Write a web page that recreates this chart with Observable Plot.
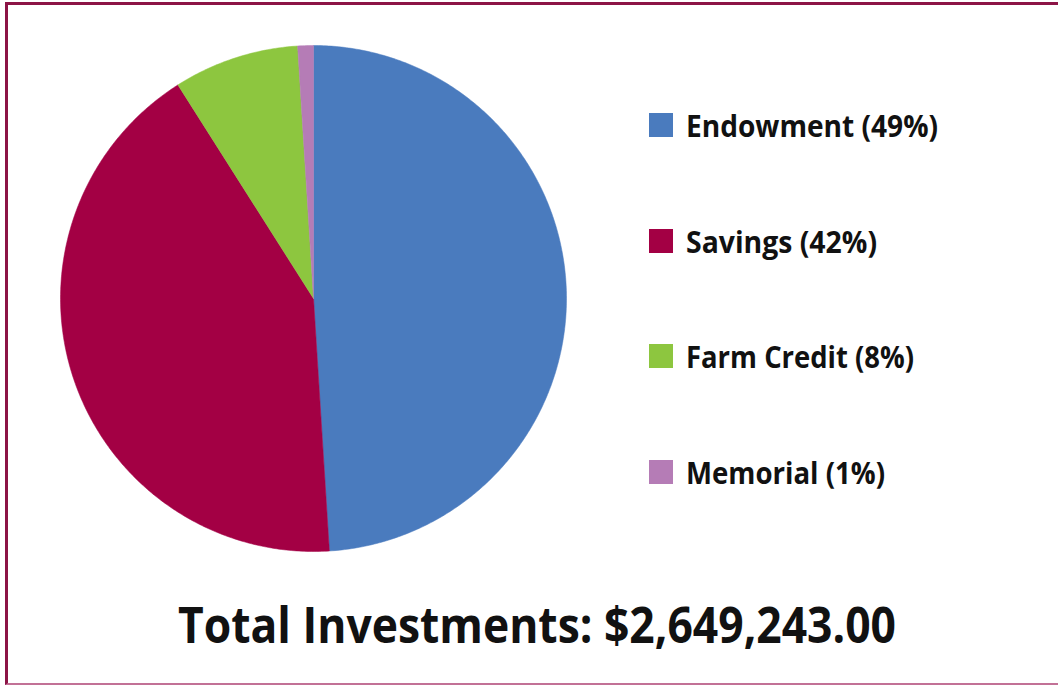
<!DOCTYPE html>
<html>
<head>
<meta charset="utf-8">
<script src="https://cdn.jsdelivr.net/npm/d3@7"></script>
<script src="https://cdn.jsdelivr.net/npm/@observablehq/plot@0.6"></script>
<style>
  html, body { margin: 0; padding: 0; background: #fff; width: 1058px; height: 685px; overflow: hidden; }
  #frame { position: absolute; left: 5px; top: 2px; width: 1070px; height: 683px;
           border: 3px solid #8c1446; border-bottom: 2px solid #c27196; box-sizing: border-box; }
  #pie { position: absolute; left: 53px; top: 38px; }
  #overlay { position: absolute; left: 0; top: 0; }
  text { font-family: "Open Sans", sans-serif; font-weight: 700; fill: #111; }
</style>
</head>
<body>
<div id="frame"></div>
<div id="pie"></div>
<svg id="overlay" width="1058" height="685"></svg>
<script>
// ---- data ----
const categories = ["Endowment", "Savings", "Farm Credit", "Memorial"];
const shares = [49, 42, 8, 1];
const colors = ["#4a7bbe", "#a30044", "#8dc63f", "#b57cb6"];
const totalLabel = "Total Investments: $2,649,243.00";

// ---- pie geometry from d3.pie (clockwise from 12 o'clock) ----
const arcs = d3.pie().sort(null).value(d => d)(shares);
const points = [];
arcs.forEach((a, i) => {
  const name = categories[i];
  points.push({name, x: 0, y: 0});
  const n = Math.max(4, Math.ceil((a.endAngle - a.startAngle) / 0.01));
  for (let k = 0; k <= n; k++) {
    const t = a.startAngle + (a.endAngle - a.startAngle) * k / n;
    points.push({name, x: Math.sin(t), y: Math.cos(t)});
  }
  points.push({name, x: 0, y: 0});
});

const chart = Plot.plot({
  width: 520,
  height: 520,
  margin: 7,
  x: {domain: [-1, 1], axis: null},
  y: {domain: [-1, 1], axis: null},
  color: {domain: categories, range: colors},
  marks: [
    Plot.line(points, {x: "x", y: "y", z: "name", fill: "name", stroke: "name", strokeWidth: 0.5, curve: "linear"})
  ]
});
document.getElementById("pie").append(chart);

// ---- legend and title ----
const svg = d3.select("#overlay");
const legendLabels = categories.map((c, i) => `${c} (${shares[i]}%)`);
const legendTops = [113, 229, 344, 460];
const legendWidths = [252, 191, 228, 199];
legendLabels.forEach((label, i) => {
  svg.append("rect").attr("x", 649).attr("y", legendTops[i]).attr("width", 24).attr("height", 24).attr("fill", colors[i]);
  svg.append("text").attr("x", 686).attr("y", legendTops[i] + 24)
    .attr("font-size", 30)
    .attr("textLength", legendWidths[i]).attr("lengthAdjust", "spacingAndGlyphs")
    .text(label);
});
svg.append("text").attr("x", 178).attr("y", 643)
  .attr("font-size", 50)
  .attr("textLength", 718).attr("lengthAdjust", "spacingAndGlyphs")
  .text(totalLabel);
</script>
</body>
</html>
